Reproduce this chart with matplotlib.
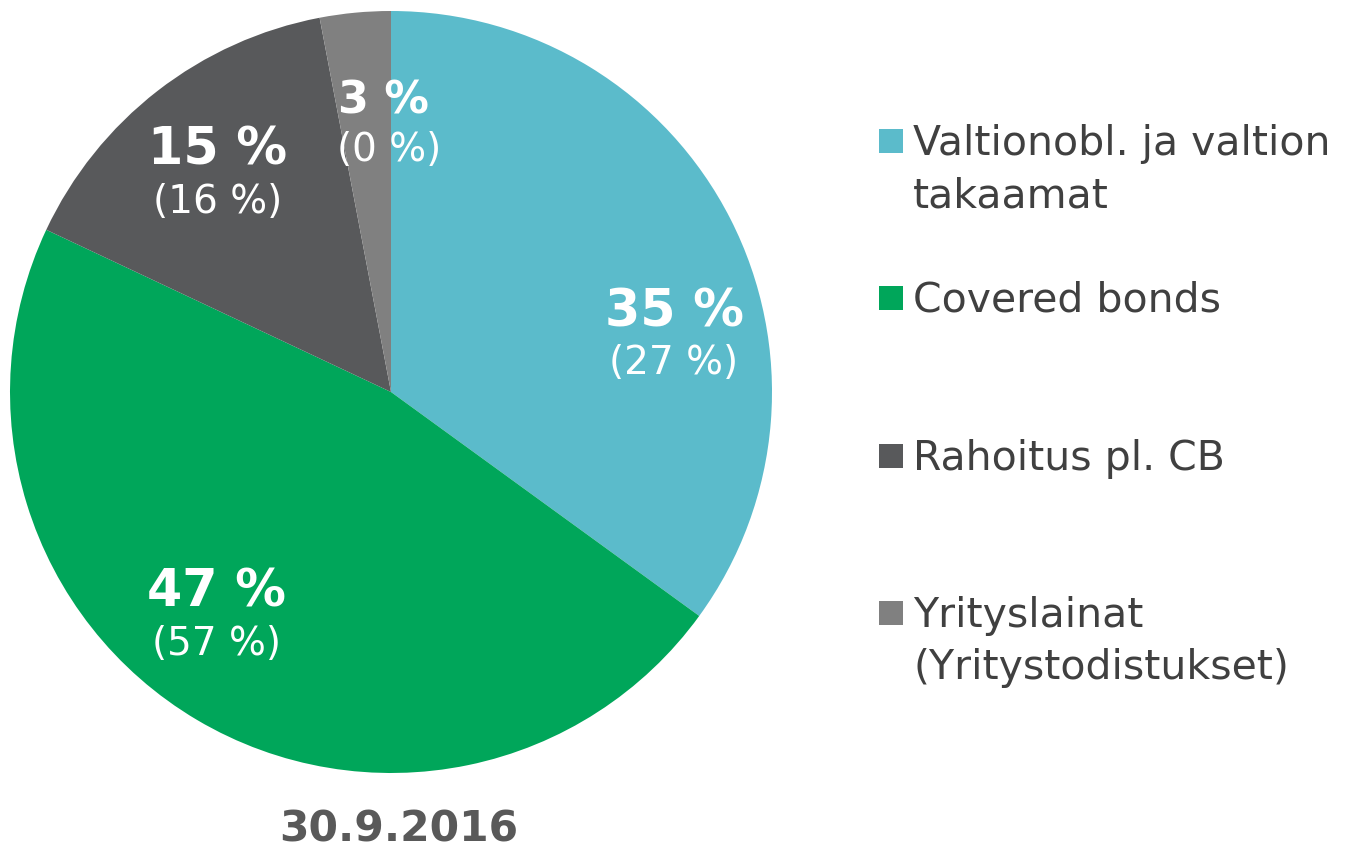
import matplotlib
matplotlib.use('Agg')
import matplotlib.pyplot as plt
from matplotlib.patches import Rectangle

# DATA ------------------------------------------------
categories = ['Valtionobl. ja valtion\ntakaamat', 'Covered bonds',
              'Rahoitus pl. CB', 'Yrityslainat\n(Yritystodistukset)']
shares = [35, 47, 15, 3]
prev_shares = [27, 57, 16, 0]
colors = ['#5BBBCB', '#00A65A', '#58595B', '#808080']
title = '30.9.2016'
# -----------------------------------------------------

W, H = 1358, 851
fig = plt.figure(figsize=(W / 100, H / 100), dpi=100)

# pie axes: centre (391, 392) px, radius 381 px
cx, cy, r = 391, 392, 381
ax = fig.add_axes([(cx - r) / W, (H - cy - r) / H, 2 * r / W, 2 * r / H])
ax.pie(shares, colors=colors, startangle=90, counterclock=False,
       wedgeprops=dict(linewidth=0))
ax.set_xlim(-1, 1)
ax.set_ylim(-1, 1)
ax.set_aspect('equal')
ax.axis('off')

# label placement: baseline of bold line, x of bold / paren line, bold size
label_pos = [(0.743, 0.171, 0.741), (-0.459, -0.564, -0.457),
             (-0.455, 0.596, -0.455), (-0.02, 0.732, -0.005)]
bold_size = [36.5, 36.5, 36.5, 32]
for (x, y, xp), s, p, fs in zip(label_pos, shares, prev_shares, bold_size):
    ax.text(x, y, '%d %%' % s, color='white', fontsize=fs, fontweight='bold',
            ha='center', va='baseline')
    ax.text(xp, y - 0.125, '(%d %%)' % p, color='white', fontsize=28,
            ha='center', va='baseline')

fig.text(399 / W, 1 - 842 / H, title, color='#595959', fontsize=30.5,
         fontweight='bold', ha='center', va='baseline')

# LEGEND ------------------------------------------------
row_y = [141, 298, 456, 613]
for yy, lab, col in zip(row_y, categories, colors):
    fig.add_artist(Rectangle((879 / W, 1 - (yy + 12) / H), 24 / W, 24 / H,
                             transform=fig.transFigure, facecolor=col,
                             edgecolor='none'))
    for i, line in enumerate(lab.split('\n')):
        fig.text(913 / W, 1 - (yy + 14 + 52 * i) / H, line, color='#404040',
                 fontsize=29.5, ha='left', va='baseline')

fig.savefig('out.png', dpi=100)
